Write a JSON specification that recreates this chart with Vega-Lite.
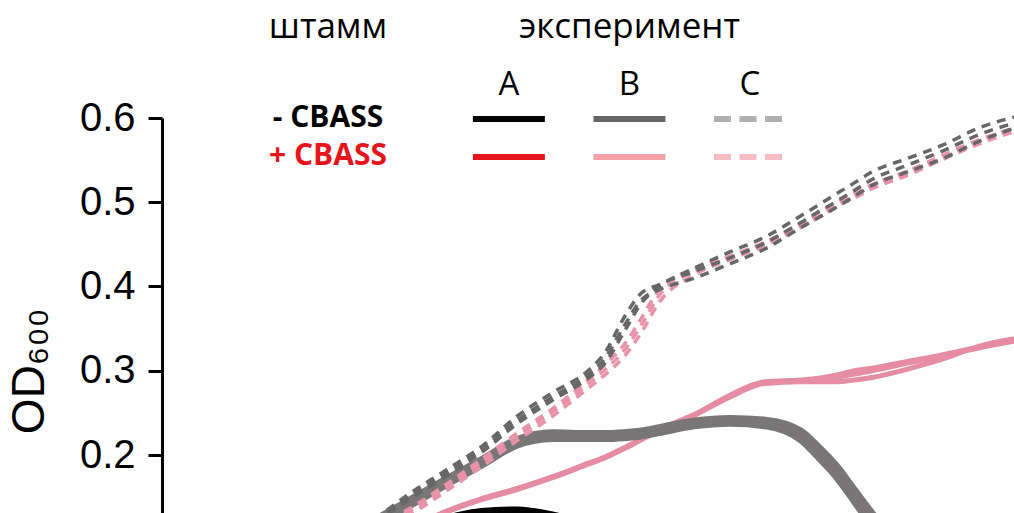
{
  "$schema": "https://vega.github.io/schema/vega-lite/v6.json",
  "width": 852,
  "height": 505.5,
  "autosize": {"type": "none"},
  "padding": {"left": 162, "top": 118, "right": 0, "bottom": 0},
  "background": "white",
  "config": {"view": {"stroke": null}, "font": "Liberation Sans"},
  "datasets": {
    "growth": [
      {"t":0,"Am1":0.040,"Am2":0.041,"Am3":0.039,"Ap1":0.038,"Ap2":0.037,"Ap3":0.039,"Bm1":0.040,"Bm2":0.040,"Bm3":0.041,"Bp1":0.038,"Bp2":0.038,"Bp3":0.039,"Cm1":0.040,"Cm2":0.040,"Cm3":0.040,"Cp1":0.039,"Cp2":0.039,"Cp3":0.039},
      {"t":1,"Am1":0.055,"Am2":0.056,"Am3":0.054,"Ap1":0.050,"Ap2":0.048,"Ap3":0.051,"Bm1":0.056,"Bm2":0.056,"Bm3":0.057,"Bp1":0.050,"Bp2":0.050,"Bp3":0.051,"Cm1":0.058,"Cm2":0.058,"Cm3":0.057,"Cp1":0.055,"Cp2":0.054,"Cp3":0.055},
      {"t":2,"Am1":0.075,"Am2":0.076,"Am3":0.074,"Ap1":0.064,"Ap2":0.062,"Ap3":0.066,"Bm1":0.082,"Bm2":0.082,"Bm3":0.083,"Bp1":0.068,"Bp2":0.068,"Bp3":0.069,"Cm1":0.086,"Cm2":0.085,"Cm3":0.084,"Cp1":0.080,"Cp2":0.078,"Cp3":0.079},
      {"t":2.5,"Am1":0.088,"Am2":0.089,"Am3":0.087,"Ap1":0.071,"Ap2":0.069,"Ap3":0.073,"Bm1":0.099,"Bm2":0.100,"Bm3":0.102,"Bp1":0.080,"Bp2":0.080,"Bp3":0.081,"Cm1":0.104,"Cm2":0.103,"Cm3":0.102,"Cp1":0.097,"Cp2":0.094,"Cp3":0.096},
      {"t":3,"Am1":0.100,"Am2":0.101,"Am3":0.099,"Ap1":0.078,"Ap2":0.076,"Ap3":0.080,"Bm1":0.118,"Bm2":0.121,"Bm3":0.124,"Bp1":0.095,"Bp2":0.095,"Bp3":0.096,"Cm1":0.125,"Cm2":0.123,"Cm3":0.121,"Cp1":0.116,"Cp2":0.112,"Cp3":0.114},
      {"t":3.5,"Am1":0.113,"Am2":0.114,"Am3":0.112,"Ap1":0.084,"Ap2":0.082,"Ap3":0.086,"Bm1":0.140,"Bm2":0.144,"Bm3":0.148,"Bp1":0.114,"Bp2":0.113,"Bp3":0.114,"Cm1":0.155,"Cm2":0.151,"Cm3":0.148,"Cp1":0.137,"Cp2":0.130,"Cp3":0.134},
      {"t":4,"Am1":0.125,"Am2":0.126,"Am3":0.124,"Ap1":0.089,"Ap2":0.087,"Ap3":0.091,"Bm1":0.164,"Bm2":0.168,"Bm3":0.172,"Bp1":0.133,"Bp2":0.132,"Bp3":0.133,"Cm1":0.182,"Cm2":0.178,"Cm3":0.175,"Cp1":0.165,"Cp2":0.157,"Cp3":0.161},
      {"t":4.5,"Am1":0.1335,"Am2":0.134,"Am3":0.132,"Ap1":0.093,"Ap2":0.091,"Ap3":0.095,"Bm1":0.187,"Bm2":0.191,"Bm3":0.195,"Bp1":0.148,"Bp2":0.147,"Bp3":0.148,"Cm1":0.210,"Cm2":0.206,"Cm3":0.203,"Cp1":0.195,"Cp2":0.186,"Cp3":0.191},
      {"t":5,"Am1":0.135,"Am2":0.136,"Am3":0.134,"Ap1":0.096,"Ap2":0.094,"Ap3":0.098,"Bm1":0.211,"Bm2":0.215,"Bm3":0.219,"Bp1":0.160,"Bp2":0.159,"Bp3":0.160,"Cm1":0.246,"Cm2":0.241,"Cm3":0.237,"Cp1":0.226,"Cp2":0.217,"Cp3":0.222},
      {"t":5.5,"Am1":0.129,"Am2":0.130,"Am3":0.128,"Ap1":0.098,"Ap2":0.096,"Ap3":0.100,"Bm1":0.219,"Bm2":0.223,"Bm3":0.227,"Bp1":0.174,"Bp2":0.173,"Bp3":0.174,"Cm1":0.274,"Cm2":0.269,"Cm3":0.265,"Cp1":0.255,"Cp2":0.246,"Cp3":0.251},
      {"t":6,"Am1":0.116,"Am2":0.118,"Am3":0.115,"Ap1":0.100,"Ap2":0.098,"Ap3":0.102,"Bm1":0.219,"Bm2":0.223,"Bm3":0.226,"Bp1":0.190,"Bp2":0.189,"Bp3":0.190,"Cm1":0.300,"Cm2":0.295,"Cm3":0.291,"Cp1":0.289,"Cp2":0.279,"Cp3":0.284},
      {"t":6.25,"Am1":0.107,"Am2":0.109,"Am3":0.106,"Ap1":0.101,"Ap2":0.099,"Ap3":0.103,"Bm1":0.219,"Bm2":0.223,"Bm3":0.226,"Bp1":0.198,"Bp2":0.197,"Bp3":0.198,"Cm1":0.323,"Cm2":0.316,"Cm3":0.310,"Cp1":0.308,"Cp2":0.296,"Cp3":0.302},
      {"t":6.5,"Am1":0.098,"Am2":0.100,"Am3":0.097,"Ap1":0.102,"Ap2":0.100,"Ap3":0.104,"Bm1":0.220,"Bm2":0.224,"Bm3":0.227,"Bp1":0.208,"Bp2":0.207,"Bp3":0.208,"Cm1":0.362,"Cm2":0.352,"Cm3":0.345,"Cp1":0.330,"Cp2":0.316,"Cp3":0.323},
      {"t":6.75,"Am1":0.089,"Am2":0.091,"Am3":0.088,"Ap1":0.103,"Ap2":0.101,"Ap3":0.105,"Bm1":0.222,"Bm2":0.226,"Bm3":0.229,"Bp1":0.219,"Bp2":0.218,"Bp3":0.219,"Cm1":0.392,"Cm2":0.384,"Cm3":0.380,"Cp1":0.362,"Cp2":0.345,"Cp3":0.354},
      {"t":7,"Am1":0.081,"Am2":0.083,"Am3":0.080,"Ap1":0.104,"Ap2":0.102,"Ap3":0.106,"Bm1":0.226,"Bm2":0.230,"Bm3":0.233,"Bp1":0.230,"Bp2":0.229,"Bp3":0.230,"Cm1":0.402,"Cm2":0.396,"Cm3":0.400,"Cp1":0.396,"Cp2":0.381,"Cp3":0.389},
      {"t":7.5,"Am1":0.069,"Am2":0.071,"Am3":0.068,"Ap1":0.105,"Ap2":0.103,"Ap3":0.107,"Bm1":0.234,"Bm2":0.238,"Bm3":0.241,"Bp1":0.248,"Bp2":0.247,"Bp3":0.248,"Cm1":0.422,"Cm2":0.410,"Cm3":0.418,"Cp1":0.421,"Cp2":0.414,"Cp3":0.418},
      {"t":8,"Am1":0.061,"Am2":0.062,"Am3":0.060,"Ap1":0.106,"Ap2":0.104,"Ap3":0.108,"Bm1":0.237,"Bm2":0.241,"Bm3":0.244,"Bp1":0.271,"Bp2":0.269,"Bp3":0.270,"Cm1":0.441,"Cm2":0.427,"Cm3":0.434,"Cp1":0.436,"Cp2":0.432,"Cp3":0.434},
      {"t":8.5,"Am1":0.056,"Am2":0.057,"Am3":0.055,"Ap1":0.107,"Ap2":0.105,"Ap3":0.109,"Bm1":0.234,"Bm2":0.238,"Bm3":0.242,"Bp1":0.287,"Bp2":0.285,"Bp3":0.286,"Cm1":0.459,"Cm2":0.445,"Cm3":0.452,"Cp1":0.453,"Cp2":0.449,"Cp3":0.451},
      {"t":9,"Am1":0.053,"Am2":0.054,"Am3":0.052,"Ap1":0.108,"Ap2":0.106,"Ap3":0.110,"Bm1":0.217,"Bm2":0.223,"Bm3":0.229,"Bp1":0.289,"Bp2":0.287,"Bp3":0.288,"Cm1":0.484,"Cm2":0.470,"Cm3":0.476,"Cp1":0.475,"Cp2":0.470,"Cp3":0.472},
      {"t":9.25,"Am1":0.052,"Am2":0.053,"Am3":0.051,"Ap1":0.108,"Ap2":0.106,"Ap3":0.110,"Bm1":0.196,"Bm2":0.203,"Bm3":0.210,"Bp1":0.291,"Bp2":0.287,"Bp3":0.289,"Cm1":0.497,"Cm2":0.482,"Cm3":0.489,"Cp1":0.487,"Cp2":0.482,"Cp3":0.484},
      {"t":9.5,"Am1":0.051,"Am2":0.052,"Am3":0.050,"Ap1":0.108,"Ap2":0.106,"Ap3":0.110,"Bm1":0.173,"Bm2":0.180,"Bm3":0.188,"Bp1":0.295,"Bp2":0.287,"Bp3":0.292,"Cm1":0.510,"Cm2":0.494,"Cm3":0.501,"Cp1":0.500,"Cp2":0.495,"Cp3":0.497},
      {"t":9.75,"Am1":0.050,"Am2":0.051,"Am3":0.050,"Ap1":0.109,"Ap2":0.107,"Ap3":0.111,"Bm1":0.144,"Bm2":0.151,"Bm3":0.160,"Bp1":0.300,"Bp2":0.289,"Bp3":0.296,"Cm1":0.523,"Cm2":0.507,"Cm3":0.514,"Cp1":0.510,"Cp2":0.505,"Cp3":0.507},
      {"t":10,"Am1":0.050,"Am2":0.051,"Am3":0.049,"Ap1":0.109,"Ap2":0.107,"Ap3":0.111,"Bm1":0.115,"Bm2":0.123,"Bm3":0.132,"Bp1":0.303,"Bp2":0.292,"Bp3":0.300,"Cm1":0.536,"Cm2":0.520,"Cm3":0.527,"Cp1":0.521,"Cp2":0.516,"Cp3":0.518},
      {"t":10.5,"Am1":0.049,"Am2":0.050,"Am3":0.049,"Ap1":0.109,"Ap2":0.107,"Ap3":0.111,"Bm1":0.073,"Bm2":0.079,"Bm3":0.085,"Bp1":0.311,"Bp2":0.302,"Bp3":0.309,"Cm1":0.552,"Cm2":0.536,"Cm3":0.544,"Cp1":0.537,"Cp2":0.532,"Cp3":0.534},
      {"t":11,"Am1":0.049,"Am2":0.050,"Am3":0.048,"Ap1":0.110,"Ap2":0.108,"Ap3":0.112,"Bm1":0.055,"Bm2":0.058,"Bm3":0.061,"Bp1":0.319,"Bp2":0.314,"Bp3":0.318,"Cm1":0.568,"Cm2":0.552,"Cm3":0.561,"Cp1":0.556,"Cp2":0.551,"Cp3":0.553},
      {"t":11.5,"Am1":0.048,"Am2":0.049,"Am3":0.048,"Ap1":0.110,"Ap2":0.108,"Ap3":0.112,"Bm1":0.049,"Bm2":0.050,"Bm3":0.051,"Bp1":0.328,"Bp2":0.329,"Bp3":0.327,"Cm1":0.588,"Cm2":0.572,"Cm3":0.580,"Cp1":0.574,"Cp2":0.569,"Cp3":0.572},
      {"t":12,"Am1":0.048,"Am2":0.049,"Am3":0.047,"Ap1":0.110,"Ap2":0.108,"Ap3":0.112,"Bm1":0.046,"Bm2":0.047,"Bm3":0.047,"Bp1":0.336,"Bp2":0.338,"Bp3":0.335,"Cm1":0.601,"Cm2":0.588,"Cm3":0.594,"Cp1":0.588,"Cp2":0.584,"Cp3":0.586}
    ],
    "legtext": [
      {"kind":"head","lcol":"strain","lrow":"letter","label":"штамм"},
      {"kind":"head","lcol":"B","lrow":"letter","label":"эксперимент"},
      {"kind":"letter","lcol":"A","lrow":"letter","label":"A"},
      {"kind":"letter","lcol":"B","lrow":"letter","label":"B"},
      {"kind":"letter","lcol":"C","lrow":"letter","label":"C"},
      {"kind":"strain","lcol":"strain","lrow":"minus","label":"- CBASS"},
      {"kind":"strain","lcol":"strain","lrow":"plus","label":"+ CBASS"}
    ],
    "legline": [
      {"sample":"Am","lcol":"A","lrow":"minus","lend":"s"},
      {"sample":"Am","lcol":"A","lrow":"minus","lend":"e"},
      {"sample":"Ap","lcol":"A","lrow":"plus","lend":"s"},
      {"sample":"Ap","lcol":"A","lrow":"plus","lend":"e"},
      {"sample":"Bm","lcol":"B","lrow":"minus","lend":"s"},
      {"sample":"Bm","lcol":"B","lrow":"minus","lend":"e"},
      {"sample":"Bp","lcol":"B","lrow":"plus","lend":"s"},
      {"sample":"Bp","lcol":"B","lrow":"plus","lend":"e"},
      {"sample":"Cm","lcol":"C","lrow":"minus","lend":"s"},
      {"sample":"Cm","lcol":"C","lrow":"minus","lend":"e"},
      {"sample":"Cp","lcol":"C","lrow":"plus","lend":"s"},
      {"sample":"Cp","lcol":"C","lrow":"plus","lend":"e"}
    ]
  },
  "layer": [
    {
      "data": {"name": "growth"},
      "transform": [
        {"fold": ["Ap1","Ap2","Ap3","Am1","Am2","Am3","Bp1","Bp2","Bp3","Bm1","Bm2","Bm3","Cp1","Cp2","Cp3","Cm1","Cm2","Cm3"], "as": ["key","od"]}
      ],
      "encoding": {
        "x": {"field": "t", "type": "quantitative", "scale": {"domain": [0, 12], "nice": false}, "axis": null},
        "y": {
          "field": "od", "type": "quantitative",
          "scale": {"domain": [0, 0.6], "nice": false, "zero": false},
          "axis": {
            "values": [0.2, 0.3, 0.4, 0.5, 0.6],
            "format": ".1f",
            "grid": false,
            "labelFont": "Liberation Sans", "labelFontSize": 40, "labelColor": "#000000", "labelPadding": 13,
            "domainColor": "#000000", "domainWidth": 3,
            "tickColor": "#000000", "tickWidth": 3, "tickSize": 14,
            "title": "OD₆₀₀", "titleFont": "Liberation Sans", "titleFontSize": 46, "titleFontWeight": "normal", "titleColor": "#000000", "titlePadding": 26
          }
        },
        "color": {
          "field": "key", "type": "nominal", "legend": null,
          "scale": {
            "domain": ["Ap1","Ap2","Ap3","Am1","Am2","Am3","Bp1","Bp2","Bp3","Bm1","Bm2","Bm3","Cp1","Cp2","Cp3","Cm1","Cm2","Cm3"],
            "range": ["#e8141c","#e8141c","#e8141c","#000000","#000000","#000000","#e68ca3","#e68ca3","#e68ca3","#787677","#787677","#787677","#e993a9","#e993a9","#e993a9","#676767","#676767","#676767"]
          }
        },
        "detail": {"field": "key"}
      },
      "layer": [
        {
          "transform": [{"filter": {"field": "key", "oneOf": ["Ap1","Ap2","Ap3","Am1","Am2","Am3","Bp1","Bp2","Bp3"]}}],
          "mark": {"type": "line", "strokeWidth": 5, "interpolate": "monotone"}
        },
        {
          "transform": [{"filter": {"field": "key", "oneOf": ["Bm1","Bm2","Bm3"]}}],
          "mark": {"type": "line", "strokeWidth": 6, "interpolate": "monotone"}
        },
        {
          "transform": [{"filter": {"field": "key", "oneOf": ["Cp1","Cp2","Cp3","Cm1","Cm2","Cm3"]}}],
          "mark": {"type": "line", "strokeWidth": 3.5, "strokeDash": [9, 7], "interpolate": "monotone"}
        }
      ]
    },
    {
      "layer": [
        {
          "data": {"name": "legline"},
          "mark": {"type": "line", "strokeWidth": 6, "strokeCap": "butt"},
          "encoding": {
            "x": {"field": "lcol", "type": "nominal", "scale": {"type": "point", "domain": ["strain","g1","g2","A","g3","B","g4","C"], "range": [166, 588], "padding": 0}, "axis": null},
            "xOffset": {"field": "lend", "type": "nominal", "scale": {"type": "point", "domain": ["s","e"], "range": [-36, 36], "padding": 0}},
            "y": {"field": "lrow", "type": "nominal", "scale": {"type": "point", "domain": ["letter","minus","plus"], "range": [-37, 39], "padding": 0}, "axis": null},
            "color": {"field": "sample", "type": "nominal", "legend": null, "scale": {"domain": ["Am","Ap","Bm","Bp","Cm","Cp"], "range": ["#000000","#e8141c","#666666","#f4a1a8","#b0b0b0","#f6bcc2"]}},
            "strokeDash": {"field": "lcol", "type": "nominal", "legend": null, "scale": {"domain": ["A","B","C"], "range": [[1,0],[1,0],[17,8.5]]}},
            "detail": {"field": "sample"}
          }
        },
        {
          "data": {"name": "legtext"},
          "transform": [{"filter": {"field": "kind", "equal": "strain"}}],
          "mark": {"type": "text", "font": "Open Sans", "fontSize": 30, "fontWeight": "bold", "align": "center", "baseline": "middle", "dy": -1},
          "encoding": {
            "x": {"field": "lcol", "type": "nominal"},
            "y": {"field": "lrow", "type": "nominal"},
            "text": {"field": "label"},
            "fill": {"field": "lrow", "type": "nominal", "legend": null, "scale": {"domain": ["letter","minus","plus"], "range": ["#000000","#000000","#e8141c"]}}
          }
        },
        {
          "data": {"name": "legtext"},
          "transform": [{"filter": {"field": "kind", "equal": "letter"}}],
          "mark": {"type": "text", "font": "Open Sans", "fontSize": 33, "align": "center", "baseline": "middle", "dy": 4},
          "encoding": {
            "x": {"field": "lcol", "type": "nominal"},
            "y": {"field": "lrow", "type": "nominal"},
            "text": {"field": "label"},
            "fill": {"field": "lrow", "type": "nominal", "legend": null}
          }
        },
        {
          "data": {"name": "legtext"},
          "transform": [{"filter": {"field": "kind", "equal": "head"}}],
          "mark": {"type": "text", "font": "Open Sans", "fontSize": 35, "align": "center", "baseline": "middle", "dy": -54},
          "encoding": {
            "x": {"field": "lcol", "type": "nominal"},
            "y": {"field": "lrow", "type": "nominal"},
            "text": {"field": "label"},
            "fill": {"field": "lrow", "type": "nominal", "legend": null}
          }
        }
      ]
    }
  ],
  "resolve": {"scale": {"x": "independent", "y": "independent", "color": "independent", "strokeDash": "independent"}}
}
